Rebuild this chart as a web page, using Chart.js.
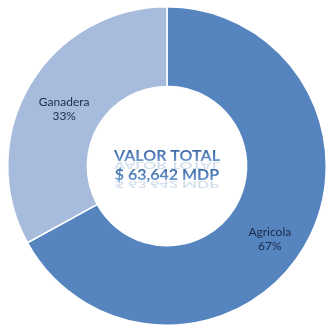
<!DOCTYPE html>
<html>
<head>
<meta charset="utf-8">
<script src="https://cdn.jsdelivr.net/npm/chart.js@4.4.0/dist/chart.umd.min.js"></script>
<style>
  html, body { margin: 0; padding: 0; background: #ffffff; }
  #wrap { width: 328px; height: 331px; }
</style>
</head>
<body>
<div id="wrap"><canvas id="graph" width="328" height="331"></canvas></div>
<script>
(function () {
    'use strict'

    // data
    const categories = ['Agricola', 'Ganadera'];
    const shares = [67, 33];
    const colors = ['#5584bf', '#a7bcdd'];
    const centerLines = ['VALOR TOTAL', '$ 63,642 MDP'];

    // slice labels drawn in the middle of each arc
    const sliceLabels = {
        id: 'sliceLabels',
        afterDatasetsDraw(chart) {
            const ctx = chart.ctx;
            const meta = chart.getDatasetMeta(0);
            ctx.save();
            ctx.font = '12px Lato';
            ctx.fillStyle = '#1c2b4a';
            ctx.textAlign = 'center';
            ctx.textBaseline = 'middle';
            meta.data.forEach(function (arc, i) {
                const p = arc.tooltipPosition();
                // the right label sits a little lower in the picture
                const dy = i === 0 ? 5 : -3;
                ctx.fillText(categories[i], p.x, p.y + dy);
                ctx.fillText(shares[i] + '%', p.x, p.y + dy + 14);
            });
            ctx.restore();
        }
    };

    // total written in the hole, with a faint mirrored copy under each line
    const centerText = {
        id: 'centerText',
        afterDatasetsDraw(chart) {
            const ctx = chart.ctx;
            const arc = chart.getDatasetMeta(0).data[0];
            const cx = arc.x, cy = arc.y;
            ctx.save();
            ctx.font = 'bold 16px Lato';
            ctx.textAlign = 'center';
            ctx.textBaseline = 'alphabetic';
            const base = [cy - 5, cy + 14];
            centerLines.forEach(function (t, i) {
                // reflection
                ctx.save();
                ctx.globalAlpha = 0.25;
                ctx.fillStyle = '#5a82b8';
                ctx.translate(cx, base[i] + 1);
                ctx.scale(1, -0.55);
                ctx.fillText(t, 0, 0);
                ctx.restore();
            });
            centerLines.forEach(function (t, i) {
                const g = ctx.createLinearGradient(0, base[i] - 12, 0, base[i]);
                g.addColorStop(0, '#3a67a3');
                g.addColorStop(1, '#6a95cd');
                ctx.fillStyle = g;
                ctx.fillText(t, cx, base[i]);
            });
            ctx.restore();
        }
    };

    new Chart(document.getElementById('graph'), {
        type: 'doughnut',
        data: {
            labels: categories,
            datasets: [{
                data: shares,
                backgroundColor: colors,
                borderColor: '#ffffff',
                borderWidth: 1.5
            }]
        },
        options: {
            responsive: false,
            animation: false,
            cutout: '50%',
            layout: {
                padding: { left: 7, right: 1, top: 6, bottom: 5 }
            },
            plugins: {
                legend: { display: false },
                tooltip: { enabled: false }
            }
        },
        plugins: [sliceLabels, centerText]
    });
})()
</script>
</body>
</html>
